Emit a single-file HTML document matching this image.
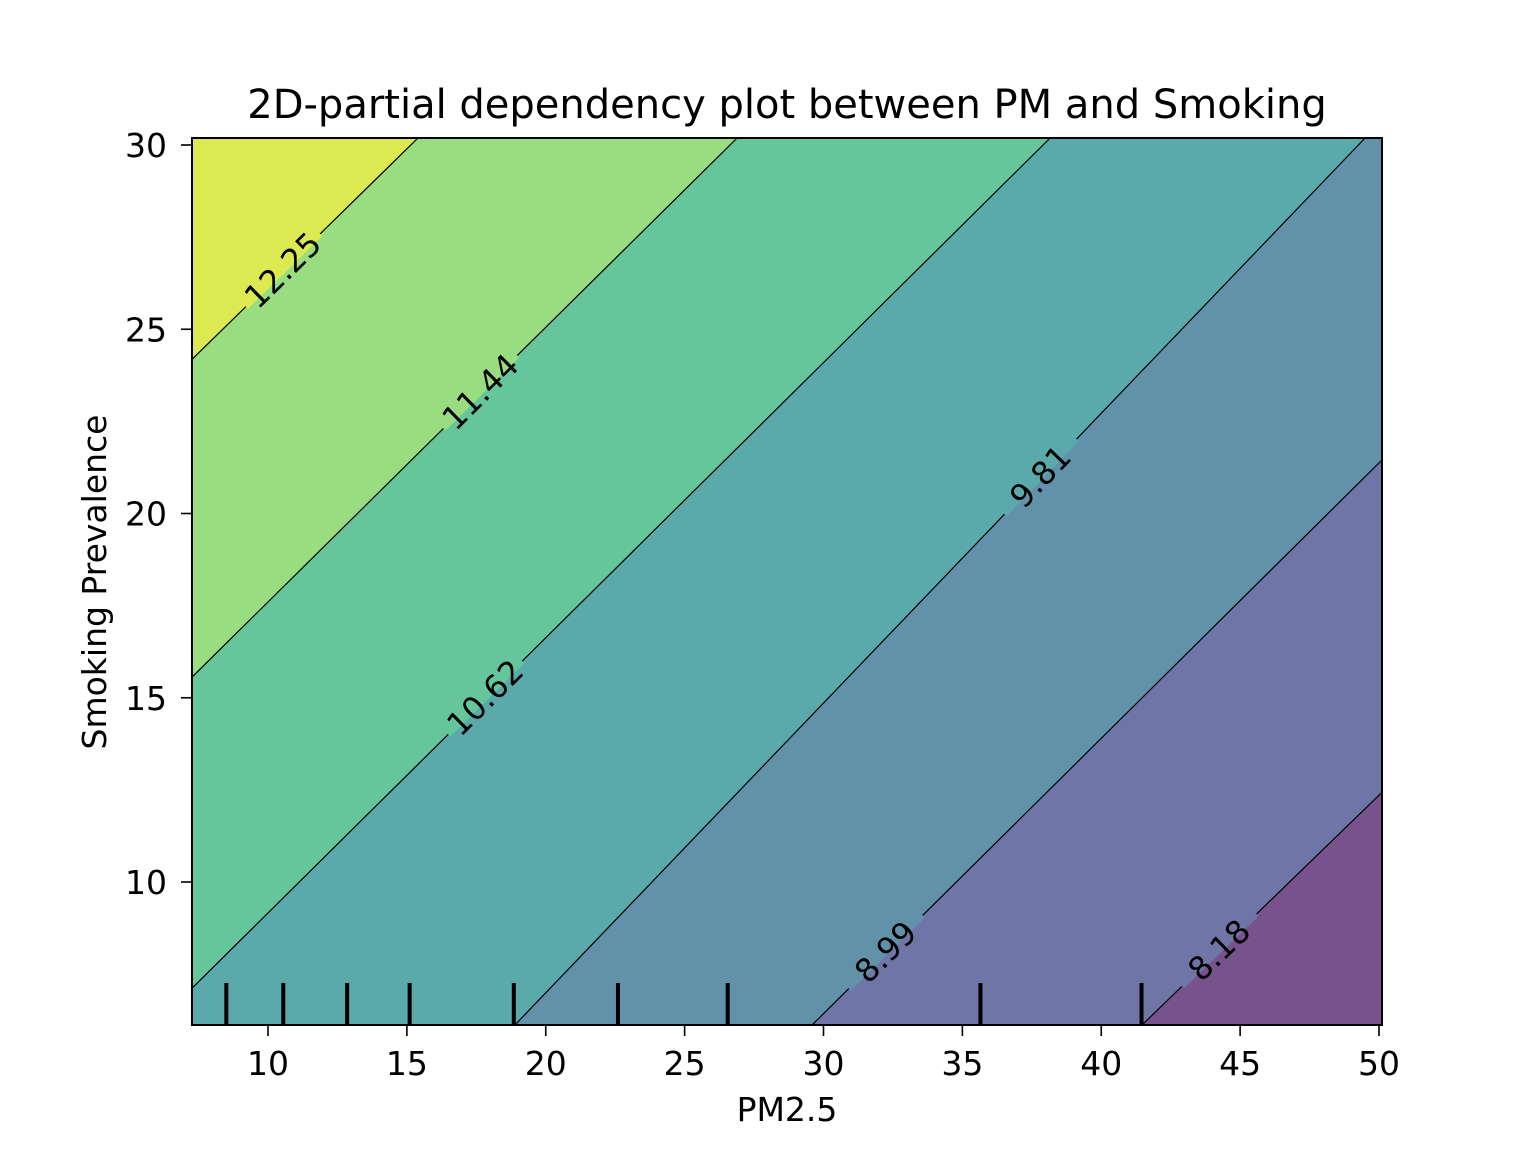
<!DOCTYPE html>
<html><head><meta charset="utf-8"><style>
body{margin:0;background:#fff;}
svg{display:block;font-family:"DejaVu Sans","Liberation Sans",sans-serif;}
</style></head><body>
<svg id="chart" width="1536" height="1152" viewBox="0 0 1536 1152" xmlns="http://www.w3.org/2000/svg">
<defs><clipPath id="plotclip"><rect x="192" y="138" width="1190" height="887"/></clipPath></defs>
<text x="787" y="118" font-size="40" text-anchor="middle">2D-partial dependency plot between PM and Smoking</text>
<g id="fills" clip-path="url(#plotclip)"></g>
<g id="lines" clip-path="url(#plotclip)"></g>
<g id="labels"></g>
<g id="rug"></g>
<rect x="192" y="138" width="1190" height="887" fill="none" stroke="#000" stroke-width="2"/>
<g id="xticks"></g>
<g id="yticks"></g>
<text x="787" y="1121" font-size="33" text-anchor="middle">PM2.5</text>
<text transform="translate(106,582) rotate(-90)" font-size="33" text-anchor="middle">Smoking Prevalence</text>
</svg>
<script>
const levels = [8.18, 8.99, 9.81, 10.62, 11.44, 12.25];
const levelTopX = [74.4, 61.8, 49.5, 38.16, 26.89, 15.40];
const levelBottomX = [41.47, 29.59, 18.89, 5.93, -5.4, -17.2];
const regionColors = ["#77528d", "#6f75a6", "#6192a9", "#5aaaac", "#65c59b", "#98dd7f", "#dde951"];
const labelPos = [[44.3, 8.15], [32.2, 8.1], [38.0, 21.0], [19.2, 15.0], [18.4, 23.3], [12.3, 26.6]];
const rugX = [8.5, 10.55, 12.85, 15.1, 18.85, 22.6, 26.55, 35.65, 41.45];
const xTicks = [10, 15, 20, 25, 30, 35, 40, 45, 50];
const yTicks = [10, 15, 20, 25, 30];
const yMin = 6.12, yMax = 30.19;
const X = v => 268 + (v - 10) * 27.775;
const Y = v => 882 - (v - 10) * 36.85;
const NS = "http://www.w3.org/2000/svg";
function mk(tag, attrs, parent){const e=document.createElementNS(NS,tag);for(const k in attrs)e.setAttribute(k,attrs[k]);parent.appendChild(e);return e;}
const fills=document.getElementById('fills'), lines=document.getElementById('lines'), labels=document.getElementById('labels');
let base = mk('rect',{x:192,y:138,width:1190,height:887,fill:regionColors[0]},fills);


levels.forEach((L,i)=>{
  const pts=[[X(levelTopX[i]),Y(yMax)],[X(levelBottomX[i]),Y(yMin)],[-2000,Y(yMin)],[-2000,Y(yMax)]];
  const p=mk('polygon',{points:pts.map(q=>q.join(',')).join(' '),fill:regionColors[i+1]},fills);
  
  
});
levels.forEach((L,i)=>{
  const l=mk('line',{x1:X(levelTopX[i]),y1:Y(yMax),x2:X(levelBottomX[i]),y2:Y(yMin),stroke:'#000','stroke-width':1.2},lines);
  
  
  const ly=labelPos[i][1];
  const t=(ly-yMin)/(yMax-yMin);
  const lx=levelBottomX[i]+t*(levelTopX[i]-levelBottomX[i]);
  const px=X(lx), py=Y(ly);
  const ang=Math.atan2(Y(yMax)-Y(yMin), X(levelTopX[i])-X(levelBottomX[i]))*180/Math.PI;
  const c=mk('rect',{x:-52,y:-3,width:104,height:6,fill:regionColors[i+1],transform:`translate(${px},${py}) rotate(${ang})`},labels);
  
  
  const tx=mk('text',{x:0,y:11,'font-size':32,'text-anchor':'middle',transform:`translate(${px},${py}) rotate(${ang})`},labels);
  tx.textContent=L.toFixed(2);
  
  
});
const rug=document.getElementById('rug');
rugX.forEach(v=>{const r=mk('line',{x1:X(v),x2:X(v),y1:983,y2:1025,stroke:'#000','stroke-width':4},rug);
  
  });
const xt=document.getElementById('xticks');
xTicks.forEach(v=>{const l=mk('line',{x1:X(v),x2:X(v),y1:1025,y2:1036,stroke:'#000','stroke-width':1.6},xt);
  
  
  const t=mk('text',{x:X(v),y:1075,'font-size':33,'text-anchor':'middle'},xt);t.textContent=v;
  
  });
const yt=document.getElementById('yticks');
yTicks.forEach(v=>{const l=mk('line',{x1:181,x2:192,y1:Y(v),y2:Y(v),stroke:'#000','stroke-width':1.6},yt);
  
  
  const t=mk('text',{x:167,y:Y(v)+12,'font-size':33,'text-anchor':'end'},yt);t.textContent=v;
  
  });
</script>
</body></html>
